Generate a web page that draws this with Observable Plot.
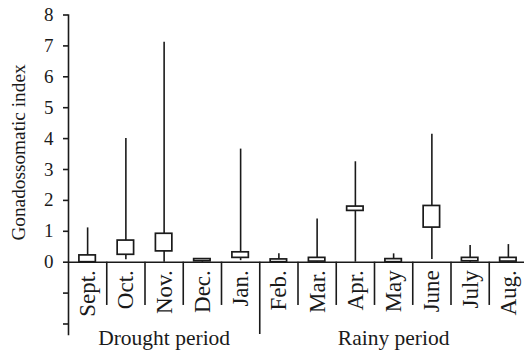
<!DOCTYPE html>
<html>
<head>
<meta charset="utf-8">
<script src="https://cdn.jsdelivr.net/npm/d3@7"></script>
<script src="https://cdn.jsdelivr.net/npm/@observablehq/plot@0.6"></script>
<style>
  html, body { margin: 0; padding: 0; background: #fff; }
  #chart svg { display: block; }
</style>
</head>
<body>
<div id="chart"></div>
<script>
const months = ["Sept.", "Oct.", "Nov.", "Dec.", "Jan.", "Feb.", "Mar.", "Apr.", "May", "June", "July", "Aug."];
const whiskerMin = [0.00, 0.08, 0.00, 0.00, 0.05, 0.00, 0.00, 0.00, 0.00, 0.09, 0.00, 0.00];
const whiskerMax = [1.11, 4.00, 7.12, 0.12, 3.66, 0.27, 1.40, 3.25, 0.27, 4.14, 0.54, 0.57];
const boxLow     = [0.00, 0.24, 0.35, 0.03, 0.14, 0.00, 0.02, 1.66, 0.00, 1.12, 0.03, 0.02];
const boxHigh    = [0.22, 0.70, 0.92, 0.10, 0.32, 0.09, 0.14, 1.80, 0.10, 1.82, 0.14, 0.14];
const periods = ["Drought period", "Rainy period"];
const periodCounts = [5, 7];
const yTicks = [-2, -1, 0, 1, 2, 3, 4, 5, 6, 7, 8];
const yLabel = "Gonadossomatic index";

const ink = "#1a1a1a";
const font = "'Liberation Serif', 'Times New Roman', serif";
const half = 0.215; // box half-width in band units

const rows = months.map((m, i) => ({
  i, month: m, lo: whiskerMin[i], hi: whiskerMax[i], q1: boxLow[i], q3: boxHigh[i]
}));

let acc = 0;
const periodRows = periods.map((p, k) => {
  const start = acc; acc += periodCounts[k];
  return {name: p, start, end: acc};
});
const periodBreaks = periodRows.slice(0, -1).map(d => d.end);
const separators = d3.range(1, months.length).filter(b => !periodBreaks.includes(b));

const yBottom = -2.34;
const sw = 1.6;

const chart = Plot.plot({
  width: 524,
  height: 353,
  marginLeft: 68,
  marginRight: 0,
  marginTop: 14.5,
  marginBottom: 19,
  style: {fontFamily: font, fontSize: "19px", color: ink, background: "#fff", overflow: "visible"},
  x: {domain: [0, months.length], range: [68, 527], axis: null},
  y: {domain: [yBottom, 8], axis: null},
  marks: [
    Plot.frame({anchor: "left", stroke: ink, strokeWidth: sw}),
    Plot.axisY({
      ticks: yTicks,
      tickFormat: d => d >= 0 ? String(d) : "",
      tickSize: 5,
      tickPadding: 10,
      stroke: ink,
      strokeWidth: sw,
      fill: ink,
      fontSize: 19,
      label: null
    }),
    Plot.ruleY([0], {stroke: ink, strokeWidth: sw}),
    Plot.ruleX(separators, {x: d => d, y1: 0, y2: -1.40, stroke: ink, strokeWidth: sw}),
    Plot.ruleX(periodBreaks, {x: d => d, y1: 0, y2: yBottom, stroke: ink, strokeWidth: sw}),
    Plot.ruleX(rows, {x: d => d.i + 0.5, y1: "lo", y2: "hi", stroke: ink, strokeWidth: sw}),
    Plot.rect(rows, {
      x1: d => d.i + 0.5 - half, x2: d => d.i + 0.5 + half,
      y1: "q1", y2: "q3",
      fill: "#fff", stroke: ink, strokeWidth: 1.7
    }),
    Plot.text(rows, {
      x: d => d.i + 0.5, y: 0, text: "month",
      rotate: -90, textAnchor: "end", lineAnchor: "middle",
      dy: 8, fontSize: 23, fill: ink
    }),
    Plot.text(periodRows, {
      x: d => (d.start + d.end) / 2, y: yBottom, text: "name",
      textAnchor: "middle", lineAnchor: "middle",
      dy: 4, fontSize: 21.5, fill: ink
    }),
    Plot.text([yLabel], {
      frameAnchor: "left", y: 3.55, text: d => d,
      rotate: -90, textAnchor: "middle", lineAnchor: "middle",
      dx: -49.5, fontSize: 19.3, fill: ink
    })
  ]
});
document.getElementById("chart").appendChild(chart);
</script>
</body>
</html>
